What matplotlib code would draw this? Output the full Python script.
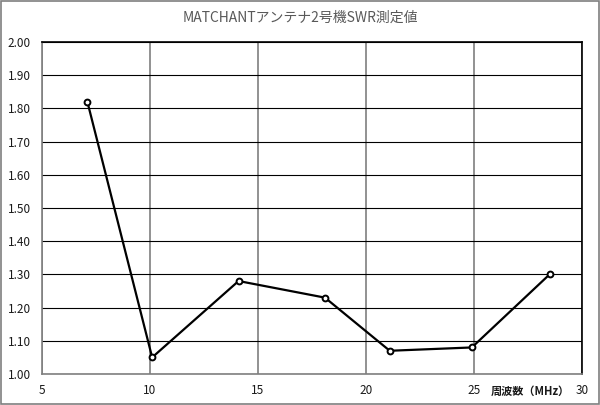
import matplotlib
matplotlib.use('Agg')
import matplotlib.pyplot as plt
from matplotlib.patches import Rectangle

plt.rcParams['font.family'] = ['Noto Sans CJK JP', 'DejaVu Sans']

# SWR readings per band
freq = [7.1, 10.1, 14.1, 18.1, 21.1, 24.9, 28.5]
swr = [1.82, 1.05, 1.28, 1.23, 1.07, 1.08, 1.30]
xTicks = [5, 10, 15, 20, 25, 30]
yTicks = [1.0, 1.1, 1.2, 1.3, 1.4, 1.5, 1.6, 1.7, 1.8, 1.9, 2.0]
title = 'MATCHANTアンテナ2号機SWR測定値'
xLabel = '周波数（MHz）'

def main():
    fig = plt.figure(figsize = [6 , 4.05] , dpi = 100)
    fig.patches.append(Rectangle((0.0015 , 0.002) , 0.996 , 0.995 , transform = fig.transFigure ,
                                 fill = False , edgecolor = '#7f7f7f' , linewidth = 1.2))
    ax = fig.add_axes([0.07 , 0.0765 , 0.9 , 0.82])

    ax.set_xlim(5 , 30)
    ax.set_ylim(1.0 , 2.0)
    ax.set_xticks(xTicks)
    ax.set_yticks(yTicks)
    ax.set_yticklabels([f'{v:.2f}' for v in yTicks])
    ax.tick_params(length = 0 , labelsize = 8.5 , colors = '#1a1a1a' , pad = 7)
    ax.tick_params(axis = 'y' , pad = 8)

    ax.grid(axis = 'y' , color = 'black' , linewidth = 0.8)
    ax.grid(axis = 'x' , color = '#7f7f7f' , linewidth = 1.2)
    ax.set_axisbelow(True)
    for side in ['top' , 'right']:
        ax.spines[side].set_color('black')
        ax.spines[side].set_linewidth(1.2)
    for side in ['left' , 'bottom']:
        ax.spines[side].set_color('#7f7f7f')
        ax.spines[side].set_linewidth(1.2)

    ax.plot(freq , swr , color = 'black' , linewidth = 1.6 , marker = 'o' , markersize = 4.2 ,
            markerfacecolor = 'white' , markeredgecolor = 'black' , markeredgewidth = 1.4 , zorder = 3)

    fig.text(0.5 , 0.955 , title , ha = 'center' , va = 'center' , fontsize = 10 , color = '#595959')
    fig.text(0.883 , 0.034 , xLabel , ha = 'center' , va = 'center' , fontsize = 8 ,
             fontweight = 'bold' , color = '#1a1a1a')

    fig.savefig('out.png' , dpi = 100)

if __name__ == '__main__':
    main()
